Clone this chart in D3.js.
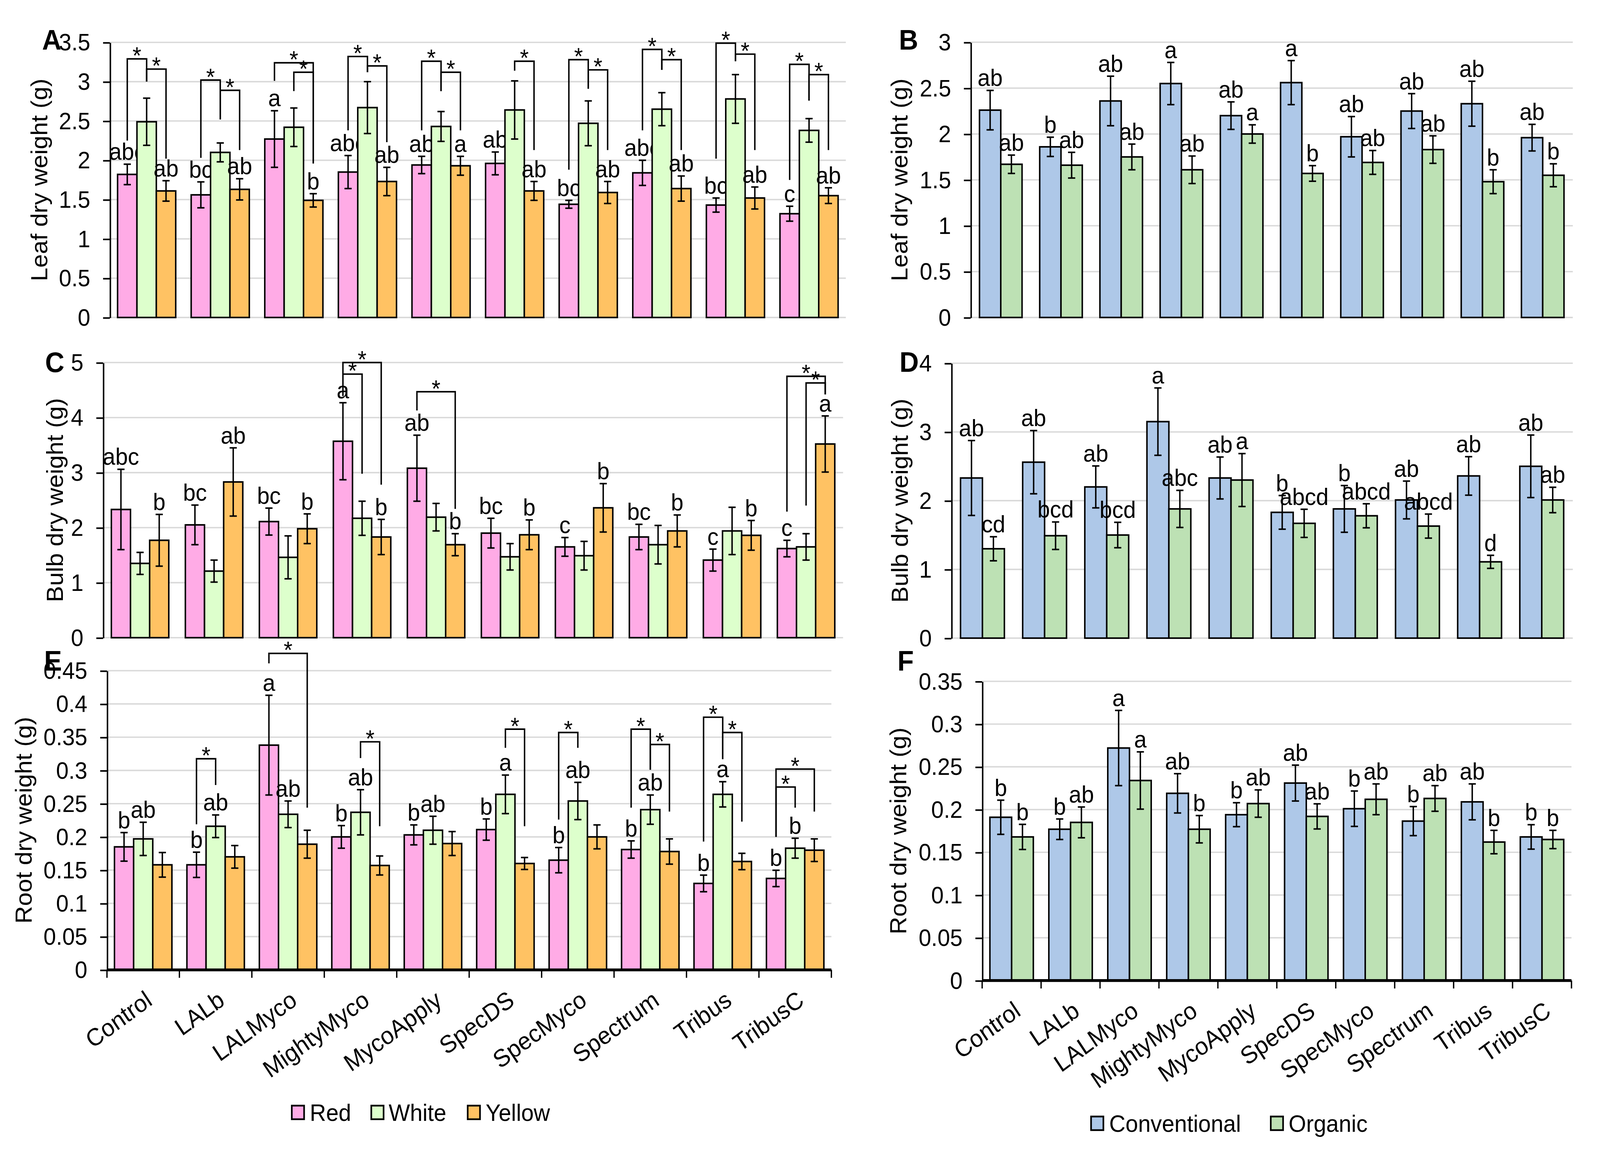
<!DOCTYPE html>
<html>
<head>
<meta charset="utf-8">
<script src="https://cdn.jsdelivr.net/npm/d3@7"></script>
<style>
  html, body { margin: 0; padding: 0; width: 100%; height: 100%; overflow: hidden; background: #fff; }
  #chart svg { display: block; width: 100vw; height: 100vh; }
</style>
</head>
<body>
<div id="chart"></div>
<script>

const treatments = ["Control", "LALb", "LALMyco", "MightyMyco", "MycoApply", "SpecDS", "SpecMyco", "Spectrum", "Tribus", "TribusC"];

// A - leaf dry weight by onion colour
const leafRed      = [1.82, 1.56, 2.27, 1.85, 1.94, 1.96, 1.44, 1.84, 1.43, 1.32];
const leafRedSe    = [0.13, 0.165, 0.36, 0.21, 0.11, 0.145, 0.05, 0.16, 0.09, 0.095];
const leafWhite    = [2.49, 2.10, 2.42, 2.67, 2.43, 2.64, 2.47, 2.65, 2.78, 2.38];
const leafWhiteSe  = [0.30, 0.12, 0.245, 0.33, 0.19, 0.37, 0.285, 0.21, 0.31, 0.15];
const leafYellow   = [1.61, 1.63, 1.49, 1.73, 1.93, 1.61, 1.59, 1.64, 1.52, 1.55];
const leafYellowSe = [0.13, 0.135, 0.085, 0.18, 0.12, 0.12, 0.14, 0.16, 0.14, 0.10];
const leafRedLetters    = ["abc", "bc", "a", "abc", "ab", "ab", "bc", "abc", "bc", "c"];
const leafYellowLetters = ["ab", "ab", "b", "ab", "a", "ab", "ab", "ab", "ab", "ab"];
// [group, from bar, to bar, top, left leg end, right leg end]
const leafColourSig = [
  [0, 0, 1, 3.29, 2.25, 3.0], [0, 1, 2, 3.16, 3.0, 2.02],
  [1, 0, 1, 3.02, 2.03, 2.52], [1, 1, 2, 2.89, 2.52, 2.13],
  [2, 0, 2, 3.24, 3.01, 1.96], [2, 1, 2, 3.12, 2.88, 1.96],
  [3, 0, 1, 3.32, 2.38, 3.12], [3, 1, 2, 3.20, 3.12, 2.23],
  [4, 0, 1, 3.26, 2.38, 2.88], [4, 1, 2, 3.12, 2.88, 2.38],
  [5, 1, 2, 3.26, 3.14, 2.13],
  [6, 0, 1, 3.28, 1.88, 2.91], [6, 1, 2, 3.15, 2.91, 2.13],
  [7, 0, 1, 3.41, 2.38, 3.15], [7, 1, 2, 3.28, 3.15, 2.13],
  [8, 0, 1, 3.49, 2.02, 3.26], [8, 1, 2, 3.35, 3.26, 2.13],
  [9, 0, 1, 3.22, 1.75, 2.76], [9, 1, 2, 3.09, 2.76, 2.13]
];

// B - leaf dry weight by system
const leafConv   = [2.26, 1.86, 2.36, 2.55, 2.20, 2.56, 1.97, 2.25, 2.33, 1.96];
const leafConvSe = [0.215, 0.105, 0.27, 0.23, 0.15, 0.24, 0.22, 0.19, 0.245, 0.145];
const leafOrg    = [1.67, 1.66, 1.75, 1.61, 2.00, 1.57, 1.69, 1.83, 1.48, 1.55];
const leafOrgSe  = [0.10, 0.14, 0.14, 0.15, 0.10, 0.085, 0.13, 0.15, 0.13, 0.125];
const leafConvLetters = ["ab", "b", "ab", "a", "ab", "a", "ab", "ab", "ab", "ab"];
const leafOrgLetters  = ["ab", "ab", "ab", "ab", "a", "b", "ab", "ab", "b", "b"];

// C - bulb dry weight by onion colour
const bulbRed      = [2.33, 2.05, 2.11, 3.57, 3.08, 1.90, 1.65, 1.83, 1.41, 1.62];
const bulbRedSe    = [0.73, 0.36, 0.245, 0.70, 0.60, 0.27, 0.17, 0.23, 0.20, 0.15];
const bulbWhite    = [1.35, 1.21, 1.46, 2.17, 2.19, 1.47, 1.49, 1.69, 1.94, 1.65];
const bulbWhiteSe  = [0.20, 0.20, 0.39, 0.31, 0.25, 0.24, 0.26, 0.35, 0.43, 0.24];
const bulbYellow   = [1.77, 2.83, 1.98, 1.83, 1.69, 1.87, 2.36, 1.94, 1.86, 3.52];
const bulbYellowSe = [0.47, 0.62, 0.27, 0.32, 0.20, 0.27, 0.44, 0.29, 0.27, 0.51];
const bulbRedLetters    = ["abc", "bc", "bc", "a", "ab", "bc", "c", "bc", "c", "c"];
const bulbYellowLetters = ["b", "ab", "b", "b", "b", "b", "b", "b", "b", "a"];
const bulbColourSig = [
  [3, 0, 1, 4.79, 4.39, 2.98], [3, 0, 2, 5.0, 4.79, 2.78],
  [4, 0, 2, 4.47, 4.13, 2.34],
  [9, 0, 2, 4.75, 2.29, 4.42], [9, 1, 2, 4.63, 2.40, 4.42]
];

// D - bulb dry weight by system
const bulbConv   = [2.33, 2.56, 2.20, 3.15, 2.33, 1.83, 1.88, 2.01, 2.36, 2.50];
const bulbConvSe = [0.545, 0.46, 0.305, 0.49, 0.305, 0.245, 0.34, 0.275, 0.28, 0.455];
const bulbOrg    = [1.30, 1.49, 1.50, 1.88, 2.30, 1.67, 1.78, 1.63, 1.11, 2.01];
const bulbOrgSe  = [0.175, 0.20, 0.185, 0.27, 0.385, 0.205, 0.175, 0.175, 0.095, 0.185];
const bulbConvLetters = ["ab", "ab", "ab", "a", "ab", "b", "b", "ab", "ab", "ab"];
const bulbOrgLetters  = ["cd", "bcd", "bcd", "abc", "a", "abcd", "abcd", "abcd", "d", "ab"];

// E - root dry weight by onion colour
const rootRed      = [0.185, 0.158, 0.338, 0.200, 0.203, 0.211, 0.165, 0.181, 0.130, 0.1375];
const rootRedSe    = [0.0215, 0.019, 0.075, 0.017, 0.015, 0.016, 0.019, 0.013, 0.0125, 0.0123];
const rootWhite    = [0.197, 0.216, 0.234, 0.237, 0.210, 0.264, 0.254, 0.241, 0.264, 0.183];
const rootWhiteSe  = [0.025, 0.017, 0.020, 0.034, 0.021, 0.029, 0.028, 0.022, 0.019, 0.015];
const rootYellow   = [0.158, 0.170, 0.189, 0.157, 0.190, 0.160, 0.200, 0.178, 0.163, 0.180];
const rootYellowSe = [0.0185, 0.017, 0.021, 0.0143, 0.018, 0.009, 0.018, 0.019, 0.0123, 0.017];
const rootRedLetters   = ["b", "b", "a", "b", "b", "b", "b", "b", "b", "b"];
const rootWhiteLetters = ["ab", "ab", "ab", "ab", "ab", "a", "ab", "ab", "a", "b"];
const rootColourSig = [
  [1, 0, 1, 0.3175, 0.219, 0.278],
  [2, 0, 2, 0.476, 0.461, 0.244],
  [3, 1, 2, 0.343, 0.3185, 0.216],
  [5, 1, 2, 0.362, 0.334, 0.216],
  [6, 0, 1, 0.357, 0.226, 0.334],
  [7, 0, 1, 0.362, 0.244, 0.301], [7, 1, 2, 0.339, 0.301, 0.238],
  [8, 0, 1, 0.380, 0.193, 0.317], [8, 1, 2, 0.357, 0.317, 0.223],
  [9, 0, 2, 0.302, 0.200, 0.238], [9, 0, 1, 0.275, 0.200, 0.244]
];

// F - root dry weight by system
const rootConv   = [0.191, 0.177, 0.272, 0.219, 0.194, 0.231, 0.201, 0.1865, 0.209, 0.168];
const rootConvSe = [0.020, 0.012, 0.044, 0.023, 0.014, 0.021, 0.0207, 0.017, 0.021, 0.0143];
const rootOrg    = [0.168, 0.185, 0.234, 0.177, 0.207, 0.192, 0.212, 0.213, 0.162, 0.165];
const rootOrgSe  = [0.0147, 0.018, 0.0335, 0.016, 0.016, 0.0147, 0.018, 0.015, 0.0137, 0.0107];
const rootConvLetters = ["b", "b", "a", "ab", "b", "ab", "b", "b", "ab", "b"];
const rootOrgLetters  = ["b", "ab", "a", "b", "ab", "ab", "ab", "ab", "b", "b"];

const colourNames = ["Red", "White", "Yellow"];
const systemNames = ["Conventional", "Organic"];

const FONT = "'Liberation Sans', Arial, sans-serif";
const RED = "#FFABE6", WHITE = "#DDFFCC", YELLOW = "#FFC263";
const CONV = "#AEC8E8", ORG = "#BDE1B4";

// drawing is done in units of a 1560 wide page; the viewBox stretches it over the window
let svg = d3.select("#chart")
    .append("svg")
    .attr("viewBox", "0 0 1560 1063.6")
    .attr("preserveAspectRatio", "none")
    .style("background-color", "#fff");

function drawPanel(p) {
    let g = svg.append("g");

    let y = d3.scaleLinear().domain([0, p.max]).range([p.y0, p.y1]);
    let xg = d3.scaleBand().domain(treatments).range([p.x0, p.x1]).padding(0);
    let bw = xg.bandwidth();
    let xs = d3.scaleBand()
        .domain(d3.range(p.series.length))
        .range([bw * (1 - p.frac) / 2, bw * (1 + p.frac) / 2]);

    let ticks = d3.range(0, p.max + p.step / 2, p.step);

    /* grid */
    g.selectAll("line.grid").data(ticks).join("line")
        .attr("class", "grid")
        .attr("x1", p.x0).attr("x2", p.x1)
        .attr("y1", d => y(d)).attr("y2", d => y(d))
        .attr("stroke", "#d9d9d9")
        .attr("stroke-width", 1.3);

    /* y axis */
    let yAxis = d3.axisLeft(y)
        .tickValues(ticks)
        .tickSize(6.6)
        .tickSizeOuter(0)
        .tickPadding(12.5)
        .tickFormat(d => String(+d.toFixed(2)));

    let ya = g.append("g")
        .attr("transform", "translate(" + p.x0 + ",0)")
        .call(yAxis)
        .attr("font-size", 22)
        .attr("font-family", FONT);
    ya.select(".domain").attr("stroke", "#000").attr("stroke-width", 1.45);
    ya.selectAll(".tick line").attr("stroke", "#000").attr("stroke-width", 1.45);
    ya.selectAll(".tick text").attr("fill", "#000");

    /* bars, error bars, letters */
    p.series.forEach((s, k) => {
        let cx = i => xg(treatments[i]) + xs(k) + xs.bandwidth() / 2;

        g.append("g").selectAll("rect").data(s.values).join("rect")
            .attr("x", (d, i) => xg(treatments[i]) + xs(k))
            .attr("width", xs.bandwidth())
            .attr("y", d => y(d))
            .attr("height", d => y(0) - y(d))
            .attr("fill", s.color)
            .attr("stroke", "#000")
            .attr("stroke-width", 1.45);

        let eb = g.append("g").attr("stroke", "#000").attr("stroke-width", 1.4);
        s.values.forEach((v, i) => {
            let e = s.se[i];
            eb.append("line")
                .attr("x1", cx(i)).attr("x2", cx(i))
                .attr("y1", y(v - e)).attr("y2", y(v + e));
            eb.append("line")
                .attr("x1", cx(i) - 3.5).attr("x2", cx(i) + 3.5)
                .attr("y1", y(v - e)).attr("y2", y(v - e));
            eb.append("line")
                .attr("x1", cx(i) - 3.5).attr("x2", cx(i) + 3.5)
                .attr("y1", y(v + e)).attr("y2", y(v + e));
        });

        if (s.letters) {
            g.append("g").selectAll("text").data(s.letters).join("text")
                .attr("x", (d, i) => cx(i))
                .attr("y", (d, i) => y(s.values[i] + s.se[i]) - 4)
                .attr("text-anchor", "middle")
                .attr("font-family", FONT)
                .attr("font-size", 22)
                .text(d => d);
        }
    });

    /* significance brackets */
    if (p.sig) {
        let bx = (gi, k) => xg(treatments[gi]) + xs(k) + xs.bandwidth() / 2;
        g.append("g").selectAll("path").data(p.sig).join("path")
            .attr("d", d => "M" + bx(d[0], d[1]) + "," + y(d[4]) +
                "V" + y(d[3]) + "H" + bx(d[0], d[2]) + "V" + y(d[5]))
            .attr("fill", "none")
            .attr("stroke", "#000")
            .attr("stroke-width", 1.4);
        g.append("g").selectAll("text").data(p.sig).join("text")
            .attr("x", d => (bx(d[0], d[1]) + bx(d[0], d[2])) / 2)
            .attr("y", d => y(d[3]) + 4.5)
            .attr("text-anchor", "middle")
            .attr("font-family", FONT)
            .attr("font-size", 22)
            .text("*");
    }

    /* x axis with category labels (bottom panels only) */
    if (p.axis) {
        g.append("line")
            .attr("x1", p.x0).attr("x2", p.x1)
            .attr("y1", p.y0).attr("y2", p.y0)
            .attr("stroke", "#000").attr("stroke-width", 2.6);
        g.selectAll("line.xt").data(d3.range(treatments.length + 1)).join("line")
            .attr("class", "xt")
            .attr("x1", d => p.x0 + d * bw).attr("x2", d => p.x0 + d * bw)
            .attr("y1", p.y0).attr("y2", p.y0 + 7.3)
            .attr("stroke", "#000").attr("stroke-width", 1.3);
        g.selectAll("text.xl").data(treatments).join("text")
            .attr("class", "xl")
            .attr("transform", d => "translate(" + (xg(d) + bw / 2 + 1) + "," + (p.y0 + 18) + ") rotate(-35)")
            .attr("dy", "0.71em")
            .attr("text-anchor", "end")
            .attr("font-family", FONT)
            .attr("font-size", 22.5)
            .text(d => d);
    }

    /* axis title */
    g.append("text")
        .attr("transform", "translate(" + p.titleX + "," + ((p.y0 + p.y1) / 2) + ") rotate(-90)")
        .attr("text-anchor", "middle")
        .attr("font-family", FONT)
        .attr("font-size", 22.5)
        .text(p.title);

    /* panel letter */
    g.append("text")
        .attr("x", p.letterX).attr("y", p.letterY)
        .attr("font-family", FONT)
        .attr("font-weight", "bold")
        .attr("font-size", 26)
        .text(p.letter);
}

drawPanel({
    letter: "A", letterX: 41, letterY: 45.6,
    title: "Leaf dry weight (g)", titleX: 46,
    x0: 107.1, x1: 824.7, y0: 291.6, y1: 38.9, max: 3.5, step: 0.5, frac: 0.79,
    series: [
        { values: leafRed, se: leafRedSe, color: RED, letters: leafRedLetters },
        { values: leafWhite, se: leafWhiteSe, color: WHITE },
        { values: leafYellow, se: leafYellowSe, color: YELLOW, letters: leafYellowLetters }
    ],
    sig: leafColourSig
});

drawPanel({
    letter: "B", letterX: 876.5, letterY: 45.6,
    title: "Leaf dry weight (g)", titleX: 884.9,
    x0: 946.4, x1: 1533.5, y0: 291.6, y1: 38.8, max: 3, step: 0.5, frac: 0.707,
    series: [
        { values: leafConv, se: leafConvSe, color: CONV, letters: leafConvLetters },
        { values: leafOrg, se: leafOrgSe, color: ORG, letters: leafOrgLetters }
    ]
});

drawPanel({
    letter: "C", letterX: 44, letterY: 341.7,
    title: "Bulb dry weight (g)", titleX: 61.2,
    x0: 100.5, x1: 822, y0: 585.7, y1: 333, max: 5, step: 1, frac: 0.776,
    series: [
        { values: bulbRed, se: bulbRedSe, color: RED, letters: bulbRedLetters },
        { values: bulbWhite, se: bulbWhiteSe, color: WHITE },
        { values: bulbYellow, se: bulbYellowSe, color: YELLOW, letters: bulbYellowLetters }
    ],
    sig: bulbColourSig
});

drawPanel({
    letter: "D", letterX: 877, letterY: 341.6,
    title: "Bulb dry weight (g)", titleX: 885,
    x0: 927.6, x1: 1533.5, y0: 586.1, y1: 333.6, max: 4, step: 1, frac: 0.706,
    series: [
        { values: bulbConv, se: bulbConvSe, color: CONV, letters: bulbConvLetters },
        { values: bulbOrg, se: bulbOrgSe, color: ORG, letters: bulbOrgLetters }
    ]
});

drawPanel({
    letter: "E", letterX: 43, letterY: 616,
    title: "Root dry weight (g)", titleX: 31,
    x0: 104.3, x1: 810.6, y0: 890.8, y1: 616, max: 0.45, step: 0.05, frac: 0.793,
    series: [
        { values: rootRed, se: rootRedSe, color: RED, letters: rootRedLetters },
        { values: rootWhite, se: rootWhiteSe, color: WHITE, letters: rootWhiteLetters },
        { values: rootYellow, se: rootYellowSe, color: YELLOW }
    ],
    sig: rootColourSig,
    axis: true
});

drawPanel({
    letter: "F", letterX: 875, letterY: 616,
    title: "Root dry weight (g)", titleX: 883.5,
    x0: 957.6, x1: 1532.2, y0: 900.6, y1: 625.8, max: 0.35, step: 0.05, frac: 0.737,
    series: [
        { values: rootConv, se: rootConvSe, color: CONV, letters: rootConvLetters },
        { values: rootOrg, se: rootOrgSe, color: ORG, letters: rootOrgLetters }
    ],
    axis: true
});

/* legends */
function legend(names, colors, xs, textXs, top) {
    let lg = svg.append("g");
    names.forEach((n, i) => {
        lg.append("rect")
            .attr("x", xs[i]).attr("y", top)
            .attr("width", 12).attr("height", 12.5)
            .attr("fill", colors[i])
            .attr("stroke", "#000").attr("stroke-width", 1.6);
        lg.append("text")
            .attr("x", textXs[i]).attr("y", top + 14)
            .attr("font-family", FONT)
            .attr("font-size", 22)
            .text(n);
    });
}
legend(colourNames, [RED, WHITE, YELLOW], [284.5, 362, 456], [302, 379, 473.5], 1015.5);
legend(systemNames, [CONV, ORG], [1063.8, 1239], [1081.5, 1256.4], 1025.5);

</script>
</body>
</html>
